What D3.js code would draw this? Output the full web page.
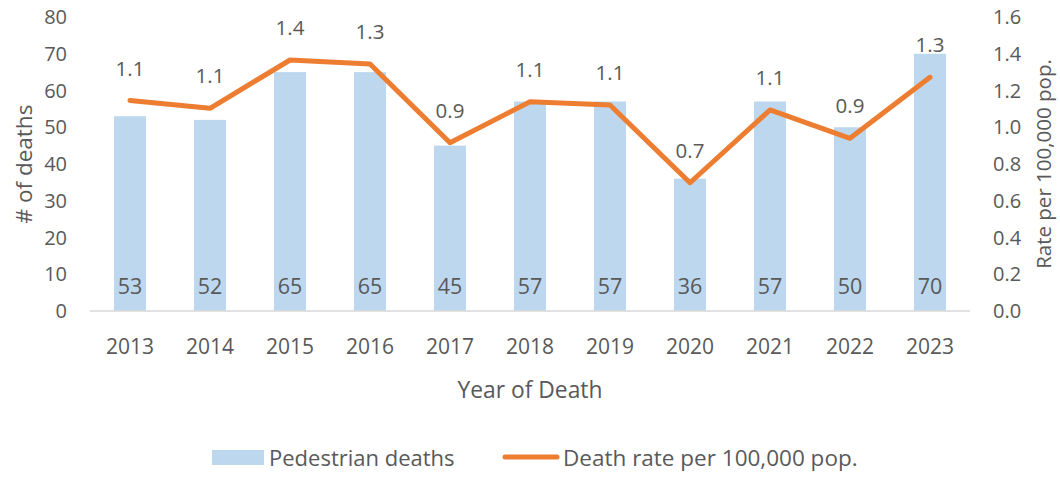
<!DOCTYPE html>
<html>
<head>
<meta charset="utf-8">
<script src="https://cdn.jsdelivr.net/npm/d3@7"></script>
<style>
  body { margin: 0; background: #fff; }
  svg text { font-family: "Open Sans", "Noto Sans", sans-serif; fill: #595959; }
</style>
</head>
<body>
<svg id="chart" width="1060" height="477"></svg>
<script>
"use strict";

// chart data
var years = ["2013", "2014", "2015", "2016", "2017", "2018", "2019", "2020", "2021", "2022", "2023"];
var deaths = [53, 52, 65, 65, 45, 57, 57, 36, 57, 50, 70];
var rates = [1.145, 1.103, 1.366, 1.344, 0.916, 1.139, 1.121, 0.698, 1.094, 0.94, 1.272];
var rateLabels = ["1.1", "1.1", "1.4", "1.3", "0.9", "1.1", "1.1", "0.7", "1.1", "0.9", "1.3"];
var leftTicks = [0, 10, 20, 30, 40, 50, 60, 70, 80];
var rightTicks = [0, 0.2, 0.4, 0.6, 0.8, 1.0, 1.2, 1.4, 1.6];

var svg = d3.select("#chart");

// plot area
var plot = {left: 90, right: 970, top: 17, bottom: 311};

var x = d3.scaleBand().domain(years).range([plot.left, plot.right]);
var yLeft = d3.scaleLinear().domain([0, 80]).range([plot.bottom, plot.top]);
var yRight = d3.scaleLinear().domain([0, 1.6]).range([plot.bottom, plot.top]);

var barW = 32;
function cx(i){ return x(years[i]) + x.bandwidth()/2; }

// bars
svg.append("g").selectAll("rect").data(deaths)
    .enter().append("rect")
    .attr("x", function(d, i){ return cx(i) - barW/2; })
    .attr("y", function(d){ return yLeft(d); })
    .attr("width", barW)
    .attr("height", function(d){ return plot.bottom - yLeft(d); })
    .attr("fill", "#bdd7ee");

// baseline
svg.append("line")
    .attr("x1", plot.left).attr("x2", plot.right)
    .attr("y1", plot.bottom).attr("y2", plot.bottom)
    .attr("stroke", "#d9d9d9").attr("stroke-width", 1.5);

// left ticks
svg.append("g").selectAll("text").data(leftTicks)
    .enter().append("text")
    .attr("x", 67)
    .attr("y", function(d){ return yLeft(d); })
    .attr("dy", "0.35em")
    .attr("text-anchor", "end")
    .style("font-size", "20px")
    .text(function(d){ return d; });

// right ticks
svg.append("g").selectAll("text").data(rightTicks)
    .enter().append("text")
    .attr("x", 993)
    .attr("y", function(d){ return yRight(d); })
    .attr("dy", "0.35em")
    .attr("text-anchor", "start")
    .style("font-size", "20px")
    .text(function(d){ return d3.format(".1f")(d); });

// year labels
svg.append("g").selectAll("text").data(years)
    .enter().append("text")
    .attr("x", function(d, i){ return cx(i); })
    .attr("y", 347)
    .attr("dy", "0.35em")
    .attr("text-anchor", "middle")
    .style("font-size", "21px")
    .text(function(d){ return d; });

// bar value labels
svg.append("g").selectAll("text").data(deaths)
    .enter().append("text")
    .attr("x", function(d, i){ return cx(i); })
    .attr("y", 286)
    .attr("dy", "0.35em")
    .attr("text-anchor", "middle")
    .style("font-size", "21.5px")
    .text(function(d){ return d; });

// rate line
var line = d3.line()
    .x(function(d, i){ return cx(i); })
    .y(function(d){ return yRight(d); });

svg.append("path")
    .datum(rates)
    .attr("d", line)
    .attr("fill", "none")
    .attr("stroke", "#ed7d31")
    .attr("stroke-width", 5)
    .attr("stroke-linecap", "round")
    .attr("stroke-linejoin", "round");

// rate labels
svg.append("g").selectAll("text").data(rates)
    .enter().append("text")
    .attr("x", function(d, i){ return cx(i); })
    .attr("y", function(d){ return yRight(d) - 32; })
    .attr("dy", "0.35em")
    .attr("text-anchor", "middle")
    .style("font-size", "20.5px")
    .text(function(d, i){ return rateLabels[i]; });

// axis titles
svg.append("text")
    .attr("transform", "translate(24,164) rotate(-90)")
    .attr("dy", "0.35em")
    .attr("text-anchor", "middle")
    .style("font-size", "22.5px")
    .text("# of deaths");

svg.append("text")
    .attr("transform", "translate(1044,164) rotate(-90)")
    .attr("dy", "0.35em")
    .attr("text-anchor", "middle")
    .style("font-size", "20.5px")
    .text("Rate per 100,000 pop.");

svg.append("text")
    .attr("x", 530)
    .attr("y", 390)
    .attr("dy", "0.35em")
    .attr("text-anchor", "middle")
    .style("font-size", "22.8px")
    .text("Year of Death");

// legend
var legend = svg.append("g");
legend.append("rect")
    .attr("x", 212).attr("y", 450)
    .attr("width", 52).attr("height", 15)
    .attr("fill", "#bdd7ee");
legend.append("text")
    .attr("x", 269).attr("y", 458)
    .attr("dy", "0.35em")
    .style("font-size", "22px")
    .text("Pedestrian deaths");
legend.append("line")
    .attr("x1", 505).attr("x2", 557)
    .attr("y1", 457).attr("y2", 457)
    .attr("stroke", "#ed7d31").attr("stroke-width", 5)
    .attr("stroke-linecap", "round");
legend.append("text")
    .attr("x", 563).attr("y", 458)
    .attr("dy", "0.35em")
    .style("font-size", "22.5px")
    .text("Death rate per 100,000 pop.");
</script>
</body>
</html>
